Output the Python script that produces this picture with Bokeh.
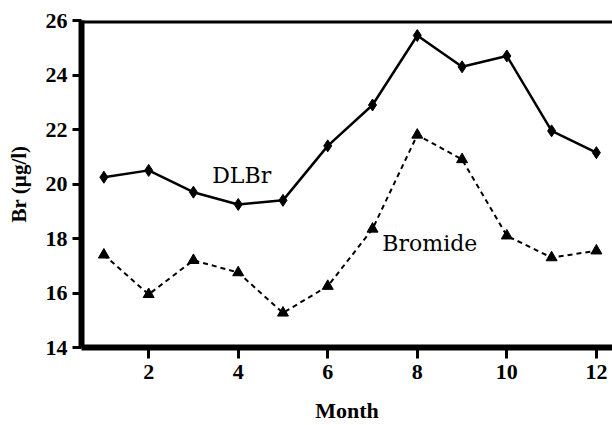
from bokeh.plotting import figure
from bokeh.models import Range1d, FixedTicker, Label, Span
from bokeh.embed import file_html
from bokeh.resources import INLINE

months = [1, 2, 3, 4, 5, 6, 7, 8, 9, 10, 11, 12]
dlbr = [20.25, 20.5, 19.7, 19.25, 19.4, 21.4, 22.9, 25.45, 24.3, 24.7, 21.95, 21.15]
bromide = [17.4, 15.95, 17.2, 16.75, 15.27, 16.25, 18.35, 21.8, 20.9, 18.1, 17.3, 17.55]
x_ticks = [2, 4, 6, 8, 10, 12]
y_ticks = [14, 16, 18, 20, 22, 24, 26]

p = figure(width=612, height=425, output_backend="svg", toolbar_location=None,
           x_range=Range1d(0.5, 12.36), y_range=Range1d(14, 26),
           min_border_left=81, min_border_right=0, min_border_top=20,
           min_border_bottom=75)
p.outline_line_color = None
p.grid.visible = False
p.background_fill_color = "white"
p.border_fill_color = "white"

tick_font = "Liberation Serif"
for ax in (p.xaxis[0], p.yaxis[0]):
    ax.axis_line_width = 6
    ax.axis_line_color = "black"
    ax.major_tick_line_width = 3
    ax.major_tick_line_color = "black"
    ax.major_tick_in = 0
    ax.minor_tick_line_color = None
    ax.major_label_text_font = tick_font
    ax.major_label_text_font_style = "bold"
    ax.major_label_text_font_size = "22px"
    ax.major_label_text_color = "black"
    ax.axis_label_text_font = tick_font
    ax.axis_label_text_font_style = "bold"
    ax.axis_label_text_color = "black"

p.xaxis.ticker = FixedTicker(ticks=x_ticks)
p.yaxis.ticker = FixedTicker(ticks=y_ticks)
p.xaxis.major_tick_out = 11
p.xaxis.major_label_standoff = 6
p.xaxis.axis_label = "Month"
p.xaxis.axis_label_text_font_size = "22px"
p.xaxis.axis_label_standoff = 16
p.yaxis.major_tick_out = 9
p.yaxis.major_label_standoff = 5
p.yaxis.axis_label = "Br (µg/l)"
p.yaxis.axis_label_text_font_size = "21px"
p.yaxis.axis_label_standoff = 12

p.add_layout(Span(location=26, dimension="width", line_color="black", line_width=6))

p.line(months, dlbr, line_color="black", line_width=2.5)
p.scatter(months, dlbr, marker="diamond", size=12, color="black")
p.line(months, bromide, line_color="black", line_width=2, line_dash="5 4")
p.scatter(months, bromide, marker="triangle", size=11, color="black")

p.add_layout(Label(x=3.42, y=20.32, text="DLBr", text_font="DejaVu Serif",
                   text_font_size="22px", text_baseline="alphabetic", text_color="black"))
p.add_layout(Label(x=7.22, y=17.8, text="Bromide", text_font="DejaVu Serif",
                   text_font_size="22px", text_baseline="alphabetic", text_color="black"))

open("out.html", "w").write(file_html(p, INLINE))
